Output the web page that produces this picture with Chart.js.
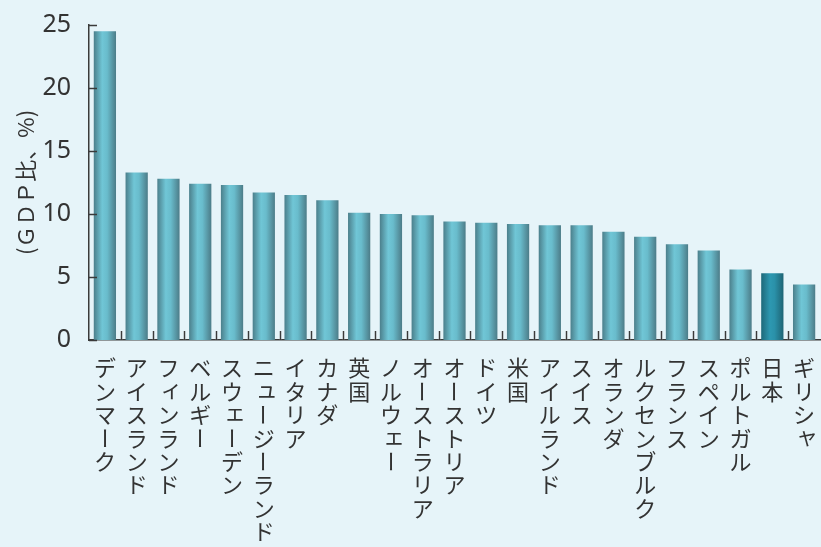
<!DOCTYPE html>
<html>
<head>
<meta charset="utf-8">
<script src="https://cdn.jsdelivr.net/npm/chart.js@4"></script>
<style>
  html, body { margin: 0; padding: 0; background: #e6f4f9; overflow: hidden; }
  #wrap { width: 821px; height: 547px; }
</style>
</head>
<body>
<div id="wrap"><canvas id="chart" width="821" height="547"></canvas></div>
<script>
// countries, sorted as in the figure
const countries = ['デンマーク', 'アイスランド', 'フィンランド', 'ベルギー', 'スウェーデン',
  'ニュージーランド', 'イタリア', 'カナダ', '英国', 'ノルウェー', 'オーストラリア',
  'オーストリア', 'ドイツ', '米国', 'アイルランド', 'スイス', 'オランダ', 'ルクセンブルク',
  'フランス', 'スペイン', 'ポルトガル', '日本', 'ギリシャ'];
// share of GDP, %
const values = [24.5, 13.3, 12.8, 12.4, 12.3, 11.7, 11.5, 11.1, 10.1, 10.0, 9.9,
  9.4, 9.3, 9.2, 9.1, 9.1, 8.6, 8.2, 7.6, 7.1, 5.6, 5.3, 4.4];
const yTicks = [0, 5, 10, 15, 20, 25];
const highlight = '日本';

const textColor = '#333333';
const barPct = 0.7;

function barGradient(ctx) {
  const chart = ctx.chart;
  const xs = chart.scales.x;
  if (!xs || !chart.chartArea) return '#62b3c3';
  const cx = xs.getPixelForValue(ctx.dataIndex);
  const w = xs.width / countries.length * barPct;
  const g = chart.ctx.createLinearGradient(cx - w / 2, 0, cx + w / 2, 0);
  if (countries[ctx.dataIndex] === highlight) {
    g.addColorStop(0, '#1d6879');
    g.addColorStop(0.4, '#2d98b1');
    g.addColorStop(0.6, '#2a91a9');
    g.addColorStop(1, '#1e6474');
  } else {
    g.addColorStop(0, '#4b7f8b');
    g.addColorStop(0.38, '#70c6d6');
    g.addColorStop(0.6, '#69bccc');
    g.addColorStop(1, '#4c7c88');
  }
  return g;
}

// inner tick marks and vertical category labels
const axisExtras = {
  id: 'axisExtras',
  afterDraw(chart) {
    const c = chart.ctx;
    const xs = chart.scales.x, ys = chart.scales.y;
    const area = chart.chartArea;
    c.save();
    c.strokeStyle = '#3a3a3a';
    c.lineWidth = 1.5;
    // y ticks pointing right
    yTicks.forEach(v => {
      const y = Math.round(ys.getPixelForValue(v)) + 0.5;
      c.beginPath();
      c.moveTo(area.left, y);
      c.lineTo(area.left + 8, y);
      c.stroke();
    });
    // x category boundaries pointing up
    const step = xs.width / countries.length;
    for (let i = 1; i < countries.length; i++) {
      const x = Math.round(xs.getPixelForValue(i) - step / 2) + 0.5;
      c.strokeStyle = 'rgba(120,120,120,0.35)';
      c.lineWidth = 3;
      c.beginPath();
      c.moveTo(x, area.bottom);
      c.lineTo(x, area.bottom - 9);
      c.stroke();
      c.strokeStyle = '#3a3a3a';
      c.lineWidth = 1;
      c.beginPath();
      c.moveTo(x, area.bottom);
      c.lineTo(x, area.bottom - 9);
      c.stroke();
    }
    // vertical Japanese labels
    c.fillStyle = textColor;
    c.font = '22px "Noto Sans CJK JP"';
    c.textAlign = 'center';
    c.textBaseline = 'middle';
    const small = 'ァィゥェォャュョッ';
    countries.forEach((name, i) => {
      const x = xs.getPixelForValue(i);
      let y = area.bottom + 28;
      for (const ch of name) {
        if (ch === 'ー') {
          c.save();
          c.translate(x, y);
          c.rotate(Math.PI / 2);
          c.fillText(ch, 0, 0);
          c.restore();
        } else if (small.includes(ch)) {
          c.fillText(ch, x + 3, y - 3);
        } else {
          c.fillText(ch, x, y);
        }
        y += 23.4;
      }
    });
    c.restore();
  }
};

new Chart(document.getElementById('chart'), {
  type: 'bar',
  data: {
    labels: countries,
    datasets: [{
      data: values,
      backgroundColor: barGradient,
      borderWidth: 0,
      barPercentage: barPct,
      categoryPercentage: 1
    }]
  },
  options: {
    responsive: false,
    animation: false,
    layout: { padding: { top: 25, right: 1, bottom: 207, left: 8 } },
    plugins: {
      legend: { display: false },
      tooltip: { enabled: false }
    },
    scales: {
      x: {
        ticks: { display: false },
        grid: { display: false, drawTicks: false },
        border: { display: true, color: '#3a3a3a', width: 1.5 }
      },
      y: {
        min: 0,
        max: 25,
        afterBuildTicks(scale) { scale.ticks = yTicks.map(v => ({ value: v })); },
        afterFit(scale) {
          scale.width = 81;
          scale.paddingTop = 0;
          scale.paddingBottom = 0;
        },
        ticks: {
          color: textColor,
          font: { family: '"Noto Sans"', size: 25 },
          padding: 18
        },
        grid: { display: false, drawTicks: false },
        border: { display: true, color: '#3a3a3a', width: 1.5 },
        title: {
          display: true,
          text: '(ＧＤＰ比、%)',
          color: textColor,
          font: { family: '"Noto Sans CJK JP"', size: 22 },
          padding: { top: 4, bottom: 0 }
        }
      }
    }
  },
  plugins: [axisExtras]
});
</script>
</body>
</html>
